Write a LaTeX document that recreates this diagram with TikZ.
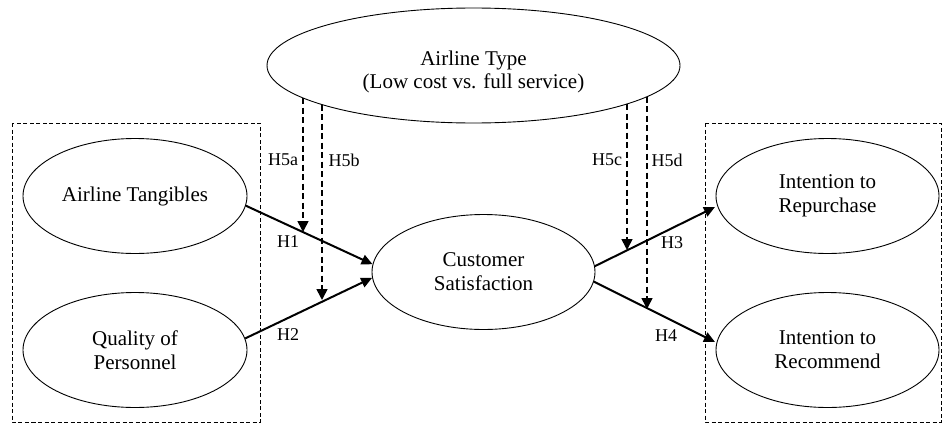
\documentclass[tikz,border=0pt]{standalone}
\usepackage{fontspec}
\setmainfont{Liberation Serif}
\usetikzlibrary{shapes.geometric,arrows.meta,calc}
\tikzset{
  construct/.style={ellipse,draw,line width=0.9pt,minimum width=224pt,minimum height=115pt,inner sep=0pt,align=center,font=\fontsize{21}{24}\selectfont},
  ctext/.style={inner sep=0pt,align=center,font=\fontsize{21}{23.5}\selectfont},
  hyp/.style={line width=2pt,-{Triangle[length=11pt,width=10pt]}},
  moder/.style={line width=1.6pt,dash pattern=on 6pt off 3.5pt,-{Triangle[length=11pt,width=11pt]}},
  groupbox/.style={draw,line width=0.8pt,dash pattern=on 4pt off 2.5pt},
  hlabel/.style={font=\fontsize{18}{20}\selectfont,inner sep=0pt}
}
\begin{document}
\begin{tikzpicture}[x=1pt,y=-1pt]
\useasboundingbox (0,0) rectangle (942,423);
% group boxes
\draw[groupbox] (12,123) rectangle (260,422);
\draw[groupbox] (705,123) rectangle (941,422);
% constructs
\node[construct,minimum width=413pt,minimum height=115pt] (type) at (473.5,65.5) {};
\node[ctext] (typetext) at (473.5,72) {Airline Type\\(Low cost vs. full service)};
\node[construct] (AT) at (135,196) {Airline Tangibles};
\node[construct] (QP) at (135,350) {Quality of\\Personnel};
\node[construct,minimum width=223pt] (CS) at (483.5,272) {Customer\\Satisfaction};
\node[construct,minimum width=223pt] (IR) at (827.5,196) {Intention to\\Repurchase};
\node[construct,minimum width=223pt] (IC) at (827.5,350) {Intention to\\Recommend};
% main hypotheses
\draw[hyp] (AT.-5) -- (CS.176);
\draw[hyp] (QP.6) -- (CS.183);
\draw[hyp] (CS.3) -- (715,207) coordinate (IRtip);
\draw[hyp] (CS.-5) -- (715,342) coordinate (ICtip);
% moderation
\coordinate (s5a) at (303,98);
\coordinate (e5a) at (303,232);
\coordinate (s5b) at (322,104.6);
\coordinate (e5b) at (322,300);
\coordinate (s5c) at (627,104);
\coordinate (e5c) at (627,250);
\coordinate (s5d) at (647,96.7);
\coordinate (e5d) at (647,309);
\draw[moder] (s5a) -- (e5a);
\draw[moder] (s5b) -- (e5b);
\draw[moder] (s5c) -- (e5c);
\draw[moder] (s5d) -- (e5d);
% labels
\node[hlabel] (lH5a) at (283,160) {H5a};
\node[hlabel] (lH5b) at (344,160) {H5b};
\node[hlabel] (lH1) at (288,242) {H1};
\node[hlabel] (lH2) at (288,335) {H2};
\node[hlabel] (lH5c) at (607,160) {H5c};
\node[hlabel] (lH5d) at (667,160) {H5d};
\node[hlabel] (lH3) at (672,243) {H3};
\node[hlabel] (lH4) at (666,336) {H4};
\end{tikzpicture}
\end{document}
